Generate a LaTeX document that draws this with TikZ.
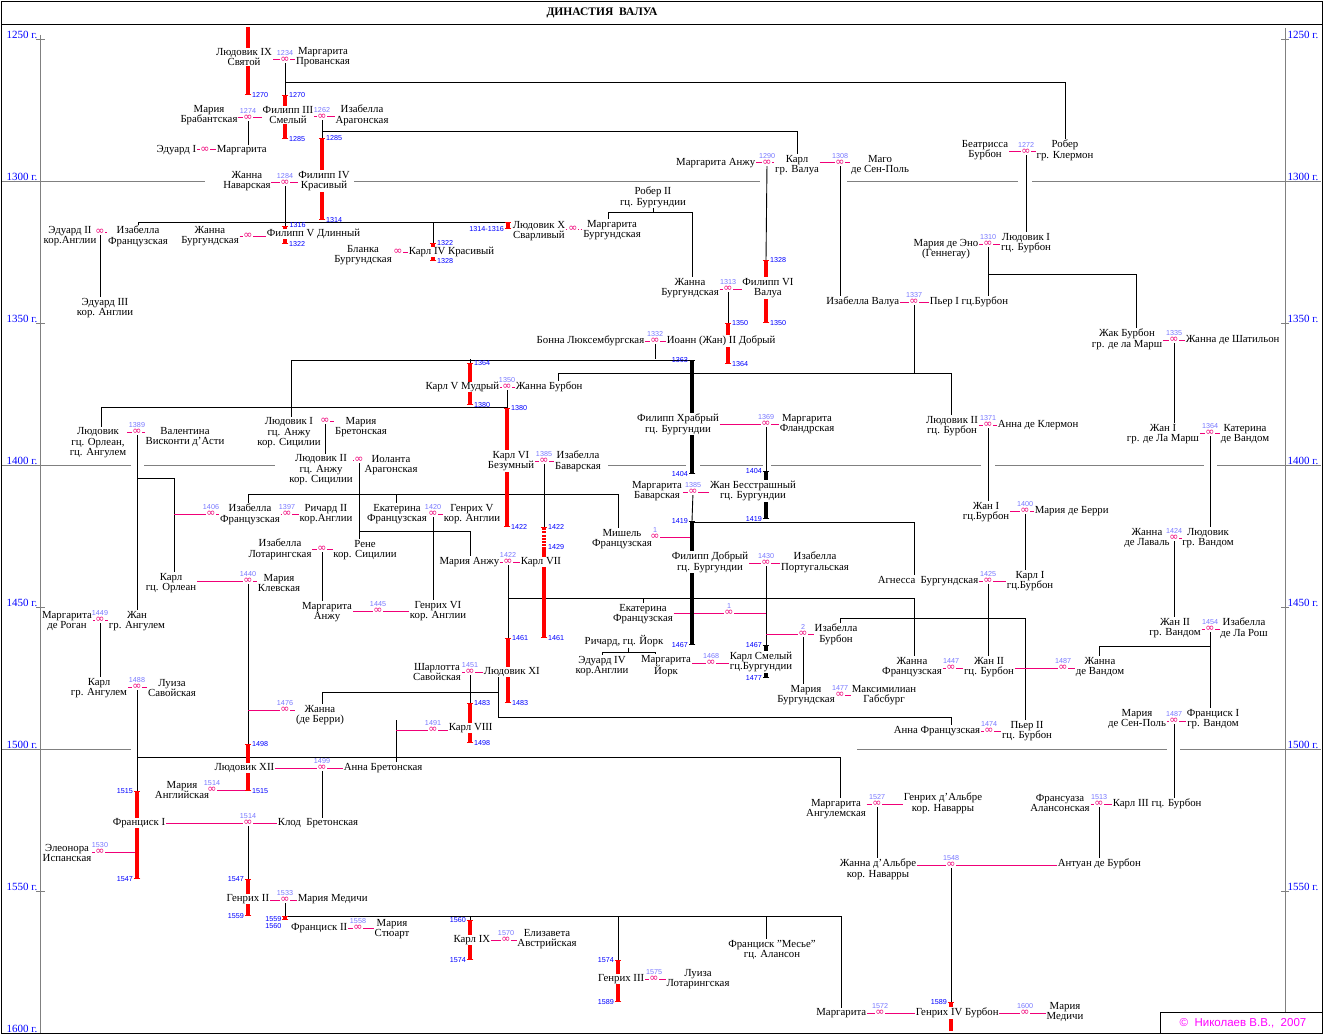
\documentclass[tikz,border=0pt]{standalone}
\usepackage{fontspec}
\setmainfont{Liberation Serif}
\newfontfamily\yrfont{Liberation Sans}
\newfontfamily\symfont{DejaVu Sans}
\usetikzlibrary{arrows.meta}
\usetikzlibrary{positioning}
\usetikzlibrary{calc}
\pgfdeclarelayer{bg}
\pgfsetlayers{bg,main}
\definecolor{pinkc}{RGB}{240,0,120}
\definecolor{yblue}{RGB}{0,0,255}
\definecolor{mblue}{RGB}{120,120,255}
\definecolor{reignred}{RGB}{255,0,0}
\definecolor{axgray}{RGB}{128,128,128}
\definecolor{copym}{RGB}{255,0,255}
\newcommand\pfont{\fontsize{10.8}{10.6}\selectfont}
\newcommand\yfont{\yrfont\fontsize{7.2}{7.2}\selectfont}

\begin{document}
\begin{tikzpicture}[x=1pt,y=-1pt,
  pers/.style={font=\pfont,align=center,inner sep=0.6pt,fill=white},
  ring/.style={font=\symfont\fontsize{11}{11}\selectfont,text=pinkc,inner sep=0pt,fill=white},
  wed/.style={ring,label={[my,label distance=1.6pt]90:#1}},
  yr/.style={font=\yfont,text=yblue,inner sep=0.5pt},
  my/.style={font=\yfont,text=mblue,inner sep=0pt},
  mar/.style={draw=pinkc,line width=1pt},
  kin/.style={draw=black,line width=0.9pt},
  reign/.style={draw=reignred,line width=3.6pt,{Bar[width=6.5pt,line width=1.3pt]}-{Bar[width=6.5pt,line width=1.3pt]}},
  reignopen/.style={draw=reignred,line width=3.6pt,-{Bar[width=6.5pt,line width=1.3pt]}},
  reigntop/.style={draw=reignred,line width=3.6pt,{Bar[width=6.5pt,line width=1.3pt]}-},
  duke/.style={reign,draw=black},
  cent/.style={draw=axgray,line width=0.8pt},
  axl/.style={font=\fontsize{11}{11}\selectfont,text=yblue,inner sep=0.5pt}]
\useasboundingbox (0,0) rectangle (1324,1035);

% frame, title, copyright
\draw[line width=0.8pt] (1,1) rectangle (1322,1033);
\draw[line width=0.8pt] (1,24) -- (1322,24);
\node[font=\bfseries\fontsize{11.5}{12}\selectfont] (title) at (602,13) {ДИНАСТИЯ\ \ ВАЛУА};
\draw[line width=0.8pt] (1160,1012) rectangle (1322,1033);
\node[font=\yrfont\fontsize{11.5}{12}\selectfont,text=copym] (copy) at (1243,1023) {©\ \ Николаев В.В.,\ \ 2007};

% time scale
\foreach \yr/\yy in {1250/39,1300/181,1350/323,1400/465,1450/607,1500/749,1550/891,1600/1033}
  \node[axl,anchor=south east] (axl\yr) at (38,\yy) {\yr~г.};
\foreach \yr/\yy in {1250/39,1300/181,1350/323,1400/465,1450/607,1500/749,1550/891}
  \node[axl,anchor=south west] (axr\yr) at (1287,\yy) {\yr~г.};

% people
\path
(244,57) node(louis9) [pers] {Людовик IX\\Святой}
(323,57) node(margprov) [pers] {Маргарита\\Прованская}
(209,115) node(mariabrab) [pers] {Мария\\Брабантская}
(288,115) node(phil3) [pers] {Филипп III\\Смелый}
(362,115) node(isabarag) [pers] {Изабелла\\Арагонская}
(197,150) node(edw1) [pers,anchor=east] {Эдуард I}
(216,150) node(margfr) [pers,anchor=west] {Маргарита}
(247,181) node(jeannav) [pers] {Жанна\\Наварская}
(324,181) node(phil4) [pers] {Филипп IV\\Красивый}
(985,150) node(beatr) [pers] {Беатрисса\\Бурбон}
(1065,150) node(robclerm) [pers] {Робер\\гр. Клермон}
(756,163) node(margAnjou1) [pers,anchor=east] {Маргарита Анжу}
(797,165) node(charlesVal) [pers] {Карл\\гр. Валуа}
(880,165) node(mahaut) [pers] {Маго\\де Сен-Поль}
(70,236) node(edw2) [pers] {Эдуард II\\кор.Англии}
(138,236) node(isabfr1) [pers] {Изабелла\\Французская}
(210,236) node(jeanburg1) [pers] {Жанна\\Бургундская}
(266,234) node(phil5) [pers,anchor=west] {Филипп V Длинный}
(363,255) node(blanche) [pers] {Бланка\\Бургундская}
(408,252) node(charles4) [pers,anchor=west] {Карл IV Красивый}
(539,231) node(louisX) [pers] {Людовик X\\Сварливый}
(612,230) node(margburg) [pers] {Маргарита\\Бургундская}
(653,197) node(robII) [pers] {Робер II\\гц. Бургундии}
(946,249) node(marieHain) [pers] {Мария де Эно\\(Геннегау)}
(1026,243) node(louisIbourb) [pers] {Людовик I\\гц. Бурбон}
(105,308) node(edw3) [pers] {Эдуард III\\кор. Англии}
(690,288) node(jeanneburg2) [pers] {Жанна\\Бургундская}
(768,288) node(phil6) [pers] {Филипп VI\\Валуа}
(900,302) node(isabValois) [pers,anchor=east] {Изабелла Валуа}
(929,302) node(pierreI) [pers,anchor=west] {Пьер I гц.Бурбон}
(1127,339) node(jacques) [pers] {Жак Бурбон\\гр. де ла Марш}
(1185,340) node(jeanneChat) [pers,anchor=west] {Жанна де Шатильон}
(645,341) node(bonne) [pers,anchor=east] {Бонна Люксембургская}
(666,341) node(jean2) [pers,anchor=west] {Иоанн (Жан) II Добрый}
(500,387) node(charles5) [pers,anchor=east] {Карл V Мудрый}
(515,387) node(jeanneBourb) [pers,anchor=west] {Жанна Бурбон}
(98,443) node(louisOrl) [pers] {Людовик\\гц. Орлеан,\\гц. Ангулем}
(185,437) node(valentina) [pers] {Валентина\\Висконти д'Асти}
(289,433) node(louisIAnj) [pers] {Людовик I\\гц. Анжу\\кор. Сицилии}
(361,427) node(marieBret) [pers] {Мария\\Бретонская}
(678,424) node(philBold) [pers] {Филипп Храбрый\\гц. Бургундии}
(807,424) node(margFland) [pers] {Маргарита\\Фландрская}
(952,426) node(louisIIbourb) [pers] {Людовик II\\гц. Бурбон}
(997,425) node(anneClerm) [pers,anchor=west] {Анна де Клермон}
(1163,434) node(jeanIMarche) [pers] {Жан I\\гр. де Ла Марш}
(1245,434) node(catVend) [pers] {Катерина\\де Вандом}
(511,461) node(charles6) [pers] {Карл VI\\Безумный}
(578,461) node(isabBav) [pers] {Изабелла\\Баварская}
(321,470) node(louisIIAnj) [pers] {Людовик II\\гц. Анжу\\кор. Сицилии}
(391,465) node(yolande) [pers] {Иоланта\\Арагонская}
(657,491) node(margBav) [pers] {Маргарита\\Баварская}
(753,491) node(jeanSP) [pers] {Жан Бесстрашный\\гц. Бургундии}
(986,512) node(jeanIbourb) [pers] {Жан I\\гц.Бурбон}
(1034,511) node(marieBerry) [pers,anchor=west] {Мария де Берри}
(250,514) node(isabfr2) [pers] {Изабелла\\Французская}
(326,514) node(richard2) [pers] {Ричард II\\кор.Англии}
(397,514) node(catherineFr) [pers] {Екатерина\\Французская}
(472,514) node(henry5) [pers] {Генрих V\\кор. Англии}
(622,539) node(michelle) [pers] {Мишель\\Французская}
(1147,538) node(jeanneLaval) [pers] {Жанна\\де Лаваль}
(1208,538) node(louisVend) [pers] {Людовик\\гр. Вандом}
(280,549) node(isabLorr) [pers] {Изабелла\\Лотарингская}
(365,550) node(rene) [pers] {Рене\\кор. Сицилии}
(500,562) node(mariaAnjou) [pers,anchor=east] {Мария Анжу}
(520,562) node(charles7) [pers,anchor=west] {Карл VII}
(710,562) node(philGood) [pers] {Филипп Добрый\\гц. Бургундии}
(815,562) node(isabPort) [pers] {Изабелла\\Португальская}
(171,583) node(charlesOrl) [pers] {Карл\\гц. Орлеан}
(279,583) node(marieCleves) [pers] {Мария\\Клевская}
(979,581) node(agnes) [pers,anchor=east] {Агнесса\ \ Бургундская}
(1030,581) node(charlesIbourb) [pers] {Карл I\\гц.Бурбон}
(327,612) node(margAnjou2) [pers] {Маргарита\\Анжу}
(438,611) node(henry6) [pers] {Генрих VI\\кор. Англии}
(643,614) node(catherineFr2) [pers] {Екатерина\\Французская}
(67,621) node(margRohan) [pers] {Маргарита\\де Роган}
(137,621) node(jeanAng) [pers] {Жан\\гр. Ангулем}
(1175,628) node(jeanIIvend) [pers] {Жан II\\гр. Вандом}
(1244,628) node(isabRoche) [pers] {Изабелла\\де Ла Рош}
(836,634) node(isabBourb) [pers] {Изабелла\\Бурбон}
(624,641) node(richYork) [pers] {Ричард, гц. Йорк}
(602,666) node(edw4) [pers] {Эдуард IV\\кор.Англии}
(666,666) node(margYork) [pers] {Маргарита\\Йорк}
(761,662) node(charlesBold) [pers] {Карл Смелый\\гц.Бургундии}
(912,667) node(jeanneFr3) [pers] {Жанна\\Французская}
(989,667) node(jeanIIbourb) [pers] {Жан II\\гц. Бурбон}
(1100,667) node(jeanneVend) [pers] {Жанна\\де Вандом}
(437,672) node(charlotte) [pers] {Шарлотта\\Савойская}
(483,672) node(louisXI) [pers,anchor=west] {Людовик XI}
(99,688) node(charlesAng) [pers] {Карл\\гр. Ангулем}
(172,688) node(louise) [pers] {Луиза\\Савойская}
(806,695) node(marieBurg) [pers] {Мария\\Бургундская}
(884,695) node(maxim) [pers] {Максимилиан\\Габсбург}
(320,715) node(jeanneBerry) [pers] {Жанна\\(де Берри)}
(1137,719) node(marieSP) [pers] {Мария\\де Сен-Поль}
(1213,719) node(francIvend) [pers] {Франциск I\\гр. Вандом}
(448,728) node(charles8) [pers,anchor=west] {Карл VIII}
(981,731) node(anneFr) [pers,anchor=east] {Анна Французская}
(1027,731) node(pierreII) [pers] {Пьер II\\гц. Бурбон}
(275,768) node(louis12) [pers,anchor=east] {Людовик XII}
(343,768) node(anneBret) [pers,anchor=west] {Анна Бретонская}
(182,790) node(maryEng) [pers] {Мария\\Английская}
(836,809) node(margAng) [pers] {Маргарита\\Ангулемская}
(943,803) node(henriAlbret) [pers] {Генрих д'Альбре\\кор. Наварры}
(1060,803) node(francoise) [pers] {Франсуаза\\Алансонская}
(1112,804) node(charles3b) [pers,anchor=west] {Карл III гц. Бурбон}
(166,823) node(francis1) [pers,anchor=east] {Франциск I}
(277,823) node(claude) [pers,anchor=west] {Клод\ \ Бретонская}
(67,853) node(eleonore) [pers] {Элеонора\\Испанская}
(878,869) node(jeanneAlbret) [pers] {Жанна д'Альбре\\кор. Наварры}
(1057,864) node(antoine) [pers,anchor=west] {Антуан де Бурбон}
(270,899) node(henry2) [pers,anchor=east] {Генрих II}
(297,899) node(cathMed) [pers,anchor=west] {Мария Медичи}
(348,928) node(francis2) [pers,anchor=east] {Франциск II}
(392,929) node(maryStuart) [pers] {Мария\\Стюарт}
(491,940) node(charles9) [pers,anchor=east] {Карл IX}
(547,939) node(elisabeth) [pers] {Елизавета\\Австрийская}
(772,950) node(francAlencon) [pers] {Франциск "Месье"\\гц. Алансон}
(645,979) node(henry3) [pers,anchor=east] {Генрих III}
(698,979) node(louiseLorr) [pers] {Луиза\\Лотарингская}
(867,1013) node(margValois) [pers,anchor=east] {Маргарита}
(915,1013) node(henry4) [pers,anchor=west] {Генрих IV Бурбон}
(1065,1012) node(mariaMed) [pers] {Мария\\Медичи};

% marriages
\path
(285,60) node(r1) [wed=1234] {∞}
(248,118) node(r2) [wed=1274] {∞}
(322,117) node(r3) [wed=1262] {∞}
(205,150) node(r4) [ring] {∞}
(285,183) node(r5) [wed=1284] {∞}
(1026,152) node(r6) [wed=1272] {∞}
(767,163) node(r7) [wed=1290] {∞}
(840,163) node(r8) [wed=1308] {∞}
(100,232) node(r9) [ring] {∞}
(248,236) node(r10) [ring] {∞}
(398,252) node(r11) [ring] {∞}
(573,229) node(r12) [ring] {∞}
(988,244) node(r13) [wed=1310] {∞}
(728,289) node(r14) [wed=1313] {∞}
(914,302) node(r15) [wed=1337] {∞}
(1174,340) node(r16) [wed=1335] {∞}
(655,341) node(r17) [wed=1332] {∞}
(507,387) node(r18) [wed=1350] {∞}
(137,432) node(r19) [wed=1389] {∞}
(325,421) node(r20) [ring] {∞}
(766,424) node(r21) [wed=1369] {∞}
(988,425) node(r22) [wed=1371] {∞}
(1210,433) node(r23) [wed=1364] {∞}
(544,461) node(r24) [wed=1385] {∞}
(359,460) node(r25) [ring] {∞}
(693,492) node(r26) [wed=1385] {∞}
(1025,511) node(r27) [wed=1400] {∞}
(211,514) node(r28) [wed=1406] {∞}
(287,514) node(r29) [wed=1397] {∞}
(433,514) node(r30) [wed=1420] {∞}
(655,537) node(r31) [wed=1] {∞}
(1174,538) node(r32) [wed=1424] {∞}
(322,549) node(r33) [ring] {∞}
(508,562) node(r34) [wed=1422] {∞}
(766,563) node(r35) [wed=1430] {∞}
(248,581) node(r36) [wed=1440] {∞}
(988,581) node(r37) [wed=1425] {∞}
(378,611) node(r38) [wed=1445] {∞}
(729,613) node(r39) [wed=1] {∞}
(100,620) node(r40) [wed=1449] {∞}
(1210,629) node(r41) [wed=1454] {∞}
(803,634) node(r42) [wed=2] {∞}
(711,663) node(r43) [wed=1468] {∞}
(951,668) node(r44) [wed=1447] {∞}
(1063,668) node(r45) [wed=1487] {∞}
(470,672) node(r46) [wed=1451] {∞}
(137,687) node(r47) [wed=1488] {∞}
(840,695) node(r48) [wed=1477] {∞}
(285,710) node(r49) [wed=1476] {∞}
(1174,721) node(r50) [wed=1487] {∞}
(433,730) node(r51) [wed=1491] {∞}
(989,731) node(r52) [wed=1474] {∞}
(322,768) node(r53) [wed=1499] {∞}
(212,790) node(r54) [wed=1514] {∞}
(877,804) node(r55) [wed=1527] {∞}
(1099,804) node(r56) [wed=1513] {∞}
(248,823) node(r57) [wed=1514] {∞}
(100,852) node(r58) [wed=1530] {∞}
(951,865) node(r59) [wed=1548] {∞}
(285,900) node(r60) [wed=1533] {∞}
(358,928) node(r61) [wed=1558] {∞}
(506,940) node(r62) [wed=1570] {∞}
(654,979) node(r63) [wed=1575] {∞}
(880,1013) node(r64) [wed=1572] {∞}
(1025,1013) node(r65) [wed=1600] {∞};

% reign ends
\coordinate (l9a) at (248,27);  \coordinate (l9b) at (248,95);
\coordinate (p3a) at (285,95);  \coordinate (p3b) at (285,139);
\coordinate (p4a) at (322,138); \coordinate (p4b) at (322,220);
\coordinate (lxa) at (508,222); \coordinate (lxb) at (508,229);
\coordinate (p5a) at (285,226); \coordinate (p5b) at (285,244);
\coordinate (c4a) at (433,243); \coordinate (c4b) at (433,261);
\coordinate (p6a) at (766,260); \coordinate (p6b) at (766,323);
\coordinate (j2a) at (728,323); \coordinate (j2b) at (728,364);
\coordinate (c5a) at (470,363); \coordinate (c5b) at (470,405);
\coordinate (c6a) at (507,408); \coordinate (c6b) at (507,527);
\coordinate (c7a) at (544,527); \coordinate (c7m) at (544,547); \coordinate (c7b) at (544,638);
\coordinate (l11a) at (508,638); \coordinate (l11b) at (508,703);
\coordinate (c8a) at (470,703); \coordinate (c8b) at (470,743);
\coordinate (l12a) at (248,744); \coordinate (l12b) at (248,791);
\coordinate (f1a) at (137,791); \coordinate (f1b) at (137,879);
\coordinate (h2a) at (248,879); \coordinate (h2b) at (248,916);
\coordinate (f2a) at (285,916); \coordinate (f2b) at (285,920);
\coordinate (c9a) at (470,920); \coordinate (c9b) at (470,960);
\coordinate (h3a) at (618,960); \coordinate (h3b) at (618,1002);
\coordinate (h4a) at (951,1002); \coordinate (h4b) at (951,1031);
\coordinate (d1a) at (692,360); \coordinate (d1b) at (692,474);
\coordinate (d2a) at (766,471); \coordinate (d2b) at (766,519);
\coordinate (d3a) at (692,521); \coordinate (d3b) at (692,645);
\coordinate (d4a) at (766,645); \coordinate (d4b) at (766,678);

% junctions
\coordinate (j1) at (285,82);
\coordinate (j2) at (322,131);
\coordinate (j4a) at (608,212); \coordinate (j4b) at (692,212);
\coordinate (j5) at (988,274); \coordinate (j5b) at (1136,274);
\coordinate (j6) at (914,373); \coordinate (j6a) at (558,373); \coordinate (j6b) at (951,373);
\coordinate (j7) at (655,359); \coordinate (j7a) at (291,359);
\coordinate (j8) at (101,407);
\coordinate (j9) at (137,478); \coordinate (j9b) at (174,478);
\coordinate (j10a) at (248,494); \coordinate (j10b) at (618,494); \coordinate (j10c) at (396,494);
\coordinate (j11) at (359,531); \coordinate (j11b) at (470,531);
\coordinate (j12) at (693,522); \coordinate (j12b) at (914,522);
\coordinate (j13) at (508,598); \coordinate (j13b) at (914,598); \coordinate (j13c) at (643,598);
\coordinate (j14a) at (840,618); \coordinate (j14b) at (1025,618);
\coordinate (j15) at (1210,646); \coordinate (j15b) at (1099,646);
\coordinate (j16) at (628,652); \coordinate (j16a) at (602,652); \coordinate (j16b) at (655,652);
\coordinate (j17) at (498,717); \coordinate (j17b) at (498,692); \coordinate (j17c) at (322,692); \coordinate (j17d) at (951,717);
\coordinate (j18) at (137,757); \coordinate (j18b) at (840,757);
\coordinate (j19) at (396,720);
\coordinate (j20) at (841,916); \coordinate (j20c) at (766,916);

\begin{pgfonlayer}{bg}
% century lines and axes
\draw[cent] (40,35) -- (40,1033);
\draw[cent] (1285,28) -- (1285,1012);
\foreach \yy in {39,323,607,891}
{
  \draw[cent] (36,\yy) -- (45,\yy);
  \draw[cent] (1281,\yy) -- (1289,\yy);
}
\foreach \yy/\xa/\xb in {181/2/205,181/354/760,181/847/1018,181/1032/1321,
  465/2/131,465/144/275,465/608/686,465/700/763,465/771/981,465/995/1204,465/1217/1321,
  749/2/131,749/857/1167,749/1180/1321}
  \draw[cent] (\xa,\yy) -- (\xb,\yy);

% descent
\draw[kin] (r1) -- (p3a);
\draw[kin] (j1) -| (robclerm.north);
\draw[kin] (r2) -- (r2 |- margfr.north);
\draw[kin] (r3) -- (p4a);
\draw[kin] (j2) -| (charlesVal.north);
\draw[kin] (r5) -- (p5a);
\draw[kin] (isabfr1.north) |- (lxa);
\draw[kin] (c4a |- lxa) -- (c4a);
\draw[kin] (r6) -- (louisIbourb.north);
\draw[kin] (r7) -- (p6a);
\draw[kin] (r8) -- (r8 |- isabValois.north);
\draw[kin] (r9) -- (r9 |- edw3.north);
\draw[kin] (robII.south) -- (robII.south |- j4a);
\draw[kin] (margburg.north -| j4a) |- (j4b) -- (j4b |- jeanneburg2.north);
\draw[kin] (r13) -- (r13 |- pierreI.north);
\draw[kin] (j5) -- (j5b) -- (j5b |- jacques.north);
\draw[kin] (r14) -- (j2a);
\draw[kin] (r15) -- (j6);
\draw[kin] (jeanneBourb.north -| j6a) |- (j6b) -- (j6b |- louisIIbourb.north);
\draw[kin] (r16) -- (r16 |- jeanIMarche.north);
\draw[kin] (r17) -- (j7);
\draw[kin] (louisIAnj.north -| j7a) |- (d1a);
\draw[kin] (c5a |- j7) -- (c5a);
\draw[kin] (r18) -- (c6a);
\draw[kin] (louisOrl.north -| j8) |- (c6a |- j8);
\draw[kin] (r19) -- (r19 |- jeanAng.north);
\draw[kin] (j9) -- (j9b) -- (j9b |- charlesOrl.north);
\draw[kin] (r20) -- (r20 |- louisIIAnj.north);
\draw[kin] (r21) -- (d2a);
\draw[kin] (r22) -- (r22 |- jeanIbourb.north);
\draw[kin] (r23) -- (r23 |- louisVend.north);
\draw[kin] (r24) -- (c7a);
\draw[kin] (isabfr2.north -| j10a) |- (j10b) -- (j10b |- michelle.north);
\draw[kin] (j10c) -- (j10c |- catherineFr.north);
\draw[kin] (r25) -- (r25 |- rene.north);
\draw[kin] (j11) -- (j11b) -- (j11b |- mariaAnjou.north);
\draw[kin] (r26) -- (d3a);
\draw[kin] (j12) -- (j12b) -- (j12b |- agnes.north);
\draw[kin] (r27) -- (r27 |- charlesIbourb.north);
\draw[kin] (r30) -- (r30 |- henry6.north);
\draw[kin] (r32) -- (r32 |- jeanIIvend.north);
\draw[kin] (r33) -- (r33 |- margAnjou2.north);
\draw[kin] (r34) -- (l11a);
\draw[kin] (j13) -- (j13b) -- (j13b |- jeanneFr3.north);
\draw[kin] (j13c) -- (j13c |- catherineFr2.north);
\draw[kin] (r35) -- (d4a);
\draw[kin] (r36) -- (l12a);
\draw[kin] (r37) -- (r37 |- jeanIIbourb.north);
\draw[kin] (isabBourb.north -| j14a) |- (j14b) -- (j14b |- pierreII.north);
\draw[kin] (r40) -- (r40 |- charlesAng.north);
\draw[kin] (r41) -- (r41 |- francIvend.north);
\draw[kin] (j15) -- (j15b) -- (j15b |- jeanneVend.north);
\draw[kin] (r42) -- (r42 |- marieBurg.north);
\draw[kin] (richYork.south -| j16) -- (j16);
\draw[kin] (edw4.north -| j16a) |- (j16b) -- (j16b |- margYork.north);
\draw[kin] (r46) -- (c8a);
\draw[kin] (louisXI.south -| j17) -- (j17) -- (j17d) -- (j17d |- anneFr.north);
\draw[kin] (j17b) -- (j17c) -- (j17c |- jeanneBerry.north);
\draw[kin] (r47) -- (f1a);
\draw[kin] (j18) -- (j18b) -- (j18b |- margAng.north);
\draw[kin] (j19) -- (j19 |- anneBret.north);
\draw[kin] (r50) -- (r50 |- charles3b.north);
\draw[kin] (r53) -- (r53 |- claude.north);
\draw[kin] (r57) -- (h2a);
\draw[kin] (r55) -- (r55 |- jeanneAlbret.north);
\draw[kin] (r56) -- (r56 |- antoine.north);
\draw[kin] (r59) -- (h4a);
\draw[kin] (r60) -- (f2a) -- (j20) -- (j20 |- margValois.north);
\draw[kin] (c9a |- f2a) -- (c9a);
\draw[kin] (h3a |- f2a) -- (h3a);
\draw[kin] (j20c) -- (j20c |- francAlencon.north);

% marriages
\draw[mar] (louis9.east |- r1) -- (r1) -- (margprov.west |- r1);
\draw[mar] (mariabrab.east |- r2) -- (r2) -- (phil3.west |- r2);
\draw[mar] (phil3.east |- r3) -- (r3) -- (isabarag.west |- r3);
\draw[mar] (edw1.east) -- (r4) -- (margfr.west);
\draw[mar] (jeannav.east |- r5) -- (r5) -- (phil4.west |- r5);
\draw[mar] (beatr.east |- r6) -- (r6) -- (robclerm.west |- r6);
\draw[mar] (margAnjou1.east |- r7) -- (r7) -- (charlesVal.west |- r7);
\draw[mar] (charlesVal.east |- r8) -- (r8) -- (mahaut.west |- r8);
\draw[mar] (edw2.east |- r9) -- (r9) -- (isabfr1.west |- r9);
\draw[mar] (jeanburg1.east |- r10) -- (r10) -- (phil5.west |- r10);
\draw[mar] (blanche.east |- r11) -- (r11) -- (charles4.west |- r11);
\draw[mar,dotted] (louisX.east |- r12) -- (r12) -- (margburg.west |- r12);
\draw[mar] (marieHain.east |- r13) -- (r13) -- (louisIbourb.west |- r13);
\draw[mar] (jeanneburg2.east |- r14) -- (r14) -- (phil6.west |- r14);
\draw[mar] (isabValois.east |- r15) -- (r15) -- (pierreI.west |- r15);
\draw[mar] (jacques.east |- r16) -- (r16) -- (jeanneChat.west |- r16);
\draw[mar] (bonne.east |- r17) -- (r17) -- (jean2.west |- r17);
\draw[mar] (charles5.east |- r18) -- (r18) -- (jeanneBourb.west |- r18);
\draw[mar] (louisOrl.east |- r19) -- (r19) -- (valentina.west |- r19);
\draw[mar] (louisIAnj.east |- r20) -- (r20) -- (marieBret.west |- r20);
\draw[mar] (philBold.east |- r21) -- (r21) -- (margFland.west |- r21);
\draw[mar] (louisIIbourb.east |- r22) -- (r22) -- (anneClerm.west |- r22);
\draw[mar] (jeanIMarche.east |- r23) -- (r23) -- (catVend.west |- r23);
\draw[mar] (charles6.east |- r24) -- (r24) -- (isabBav.west |- r24);
\draw[mar] (louisIIAnj.east |- r25) -- (r25) -- (yolande.west |- r25);
\draw[mar] (margBav.east |- r26) -- (r26) -- (jeanSP.west |- r26);
\draw[mar] (jeanIbourb.east |- r27) -- (r27) -- (marieBerry.west |- r27);
\draw[mar] (j9b |- r28) -- (r28) -- (isabfr2.west |- r28);
\draw[mar] (isabfr2.east |- r29) -- (r29) -- (richard2.west |- r29);
\draw[mar] (catherineFr.east |- r30) -- (r30) -- (henry5.west |- r30);
\draw[mar] (michelle.east |- r31) -- (r31) -- (d3a |- r31);
\draw[mar] (jeanneLaval.east |- r32) -- (r32) -- (louisVend.west |- r32);
\draw[mar] (isabLorr.east |- r33) -- (r33) -- (rene.west |- r33);
\draw[mar] (mariaAnjou.east |- r34) -- (r34) -- (charles7.west |- r34);
\draw[mar] (philGood.east |- r35) -- (r35) -- (isabPort.west |- r35);
\draw[mar] (charlesOrl.east |- r36) -- (r36) -- (marieCleves.west |- r36);
\draw[mar] (agnes.east |- r37) -- (r37) -- (charlesIbourb.west |- r37);
\draw[mar] (margAnjou2.east |- r38) -- (r38) -- (henry6.west |- r38);
\draw[mar] (catherineFr2.east |- r39) -- (r39) -- (d4a |- r39);
\draw[mar] (margRohan.east |- r40) -- (r40) -- (jeanAng.west |- r40);
\draw[mar] (jeanIIvend.east |- r41) -- (r41) -- (isabRoche.west |- r41);
\draw[mar] (d4a |- r42) -- (r42) -- (isabBourb.west |- r42);
\draw[mar] (margYork.east |- r43) -- (r43) -- (charlesBold.west |- r43);
\draw[mar] (jeanneFr3.east |- r44) -- (r44) -- (jeanIIbourb.west |- r44);
\draw[mar] (jeanIIbourb.east |- r45) -- (r45) -- (jeanneVend.west |- r45);
\draw[mar] (charlotte.east |- r46) -- (r46) -- (louisXI.west |- r46);
\draw[mar] (charlesAng.east |- r47) -- (r47) -- (louise.west |- r47);
\draw[mar] (marieBurg.east |- r48) -- (r48) -- (maxim.west |- r48);
\draw[mar] (l12a |- r49) -- (r49) -- (jeanneBerry.west |- r49);
\draw[mar] (marieSP.east |- r50) -- (r50) -- (francIvend.west |- r50);
\draw[mar] (j19 |- r51) -- (r51) -- (charles8.west |- r51);
\draw[mar] (anneFr.east |- r52) -- (r52) -- (pierreII.west |- r52);
\draw[mar] (louis12.east |- r53) -- (r53) -- (anneBret.west |- r53);
\draw[mar] (maryEng.east |- r54) -- (r54) -- (l12b |- r54);
\draw[mar] (margAng.east |- r55) -- (r55) -- (henriAlbret.west |- r55);
\draw[mar] (francoise.east |- r56) -- (r56) -- (charles3b.west |- r56);
\draw[mar] (francis1.east |- r57) -- (r57) -- (claude.west |- r57);
\draw[mar] (eleonore.east |- r58) -- (r58) -- (f1a |- r58);
\draw[mar] (jeanneAlbret.east |- r59) -- (r59) -- (antoine.west |- r59);
\draw[mar] (henry2.east |- r60) -- (r60) -- (cathMed.west |- r60);
\draw[mar] (francis2.east |- r61) -- (r61) -- (maryStuart.west |- r61);
\draw[mar] (charles9.east |- r62) -- (r62) -- (elisabeth.west |- r62);
\draw[mar] (henry3.east |- r63) -- (r63) -- (louiseLorr.west |- r63);
\draw[mar] (margValois.east |- r64) -- (r64) -- (henry4.west |- r64);
\draw[mar] (henry4.east |- r65) -- (r65) -- (mariaMed.west |- r65);

% reigns
\draw[reignopen] (l9a) -- (l9b);
\draw[reign] (p3a) -- (p3b);
\draw[reign] (p4a) -- (p4b);
\draw[reign] (lxa) -- (lxb);
\draw[reign] (p5a) -- (p5b);
\draw[reign] (c4a) -- (c4b);
\draw[reign] (p6a) -- (p6b);
\draw[reign] (j2a) -- (j2b);
\draw[reign] (c5a) -- (c5b);
\draw[reign] (c6a) -- (c6b);
\draw[reigntop,dash pattern=on 2pt off 1.3pt] (c7a) -- (c7m);
\draw[reignopen] (c7m) -- (c7b);
\draw[reign] (l11a) -- (l11b);
\draw[reign] (c8a) -- (c8b);
\draw[reign] (l12a) -- (l12b);
\draw[reign] (f1a) -- (f1b);
\draw[reign] (h2a) -- (h2b);
\draw[reign] (f2a) -- (f2b);
\draw[reign] (c9a) -- (c9b);
\draw[reign] (h3a) -- (h3b);
\draw[reigntop] (h4a) -- (h4b);
\draw[duke] (d1a) -- (d1b);
\draw[duke] (d2a) -- (d2b);
\draw[duke] (d3a) -- (d3b);
\draw[duke] (d4a) -- (d4b);
\end{pgfonlayer}

% reign years
\node[yr,right=3.5pt of l9b] (t1) {1270};
\node[yr,right=3.5pt of p3a] (t2) {1270};
\node[yr,right=3.5pt of p3b] (t3) {1285};
\node[yr,right=3.5pt of p4a] (t4) {1285};
\node[yr,right=3.5pt of p4b] (t5) {1314};
\node[yr,left=3.5pt of lxb] (t6) {1314-1316};
\node[yr,anchor=west] (t7) at (289,225) {1316};
\node[yr,right=3.5pt of p5b] (t8) {1322};
\node[yr,right=3.5pt of c4a] (t9) {1322};
\node[yr,right=3.5pt of c4b] (t10) {1328};
\node[yr,right=3.5pt of p6a] (t11) {1328};
\node[yr,right=3.5pt of p6b] (t12) {1350};
\node[yr,right=3.5pt of j2a] (t13) {1350};
\node[yr,right=3.5pt of j2b] (t14) {1364};
\node[yr,right=3.5pt of c5a] (t15) {1364};
\node[yr,right=3.5pt of c5b] (t16) {1380};
\node[yr,right=3.5pt of c6a] (t17) {1380};
\node[yr,right=3.5pt of c6b] (t18) {1422};
\node[yr,right=3.5pt of c7a] (t19) {1422};
\node[yr,right=3.5pt of c7m] (t20) {1429};
\node[yr,right=3.5pt of c7b] (t21) {1461};
\node[yr,right=3.5pt of l11a] (t22) {1461};
\node[yr,right=3.5pt of l11b] (t23) {1483};
\node[yr,right=3.5pt of c8a] (t24) {1483};
\node[yr,right=3.5pt of c8b] (t25) {1498};
\node[yr,right=3.5pt of l12a] (t26) {1498};
\node[yr,right=3.5pt of l12b] (t27) {1515};
\node[yr,left=3.5pt of f1a] (t28) {1515};
\node[yr,left=3.5pt of f1b] (t29) {1547};
\node[yr,left=3.5pt of h2a] (t30) {1547};
\node[yr,left=3.5pt of h2b] (t31) {1559};
\node[yr,anchor=east] (t32) at (282,919) {1559};
\node[yr,anchor=east] (t33) at (282,926) {1560};
\node[yr,left=3.5pt of c9a] (t34) {1560};
\node[yr,left=3.5pt of c9b] (t35) {1574};
\node[yr,left=3.5pt of h3a] (t36) {1574};
\node[yr,left=3.5pt of h3b] (t37) {1589};
\node[yr,left=3.5pt of h4a] (t38) {1589};
\node[yr,left=3.5pt of d1a] (t39) {1363};
\node[yr,left=3.5pt of d1b] (t40) {1404};
\node[yr,left=3.5pt of d2a] (t41) {1404};
\node[yr,left=3.5pt of d2b] (t42) {1419};
\node[yr,left=3.5pt of d3a] (t43) {1419};
\node[yr,left=3.5pt of d3b] (t44) {1467};
\node[yr,left=3.5pt of d4a] (t45) {1467};
\node[yr,left=3.5pt of d4b] (t46) {1477};
\end{tikzpicture}
\end{document}
